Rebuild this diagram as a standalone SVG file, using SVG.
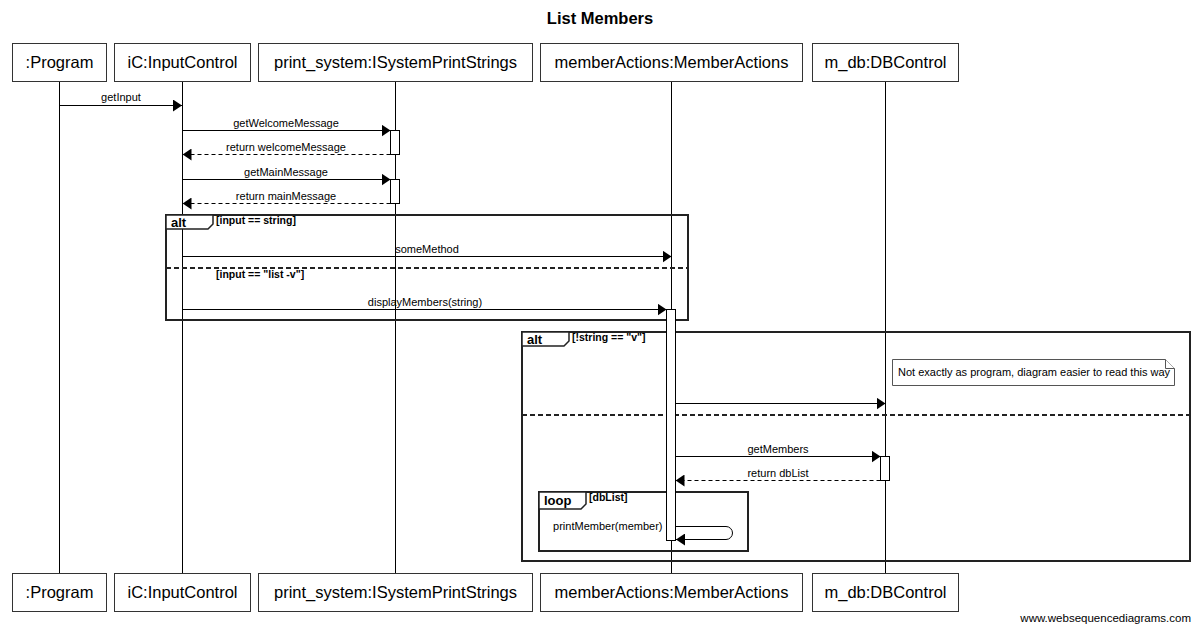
<svg xmlns="http://www.w3.org/2000/svg" width="1200" height="632" viewBox="0 0 1200 632">
<style>
  text { font-family: "Liberation Sans", Arial, sans-serif; fill: #000; }
  .title { font-size: 16.5px; font-weight: bold; text-anchor: middle; }
  .pbox { fill: #fff; stroke: #333; stroke-width: 1; }
  .pname { font-size: 16.5px; text-anchor: middle; }
  .life { stroke: #000; stroke-width: 1; }
  .msg { stroke: #000; stroke-width: 1; fill: none; marker-end: url(#ah); }
  .ret { stroke: #000; stroke-width: 1; fill: none; stroke-dasharray: 4 3; marker-end: url(#ah); }
  .lbl { font-size: 11px; text-anchor: middle; }
  .act { fill: #fff; stroke: #000; stroke-width: 1; }
  .frame { fill: none; stroke: #222; stroke-width: 2; }
  .tab { fill: #fff; stroke: #222; stroke-width: 1.5; }
  .sep { stroke: #222; stroke-width: 2; stroke-dasharray: 5 3; }
  .kw { font-size: 13px; font-weight: bold; }
  .cond { font-size: 10.5px; font-weight: bold; }
  .note { fill: #fff; stroke: #555; stroke-width: 1; }
  .wm { font-size: 11.5px; text-anchor: end; }
</style>
<defs>
  <marker id="ah" markerUnits="userSpaceOnUse" viewBox="0 0 9 12" refX="9" refY="6" markerWidth="9" markerHeight="12" orient="auto">
    <path d="M0,0 L9,6 L0,12 z" fill="#000"/>
  </marker>
</defs>
<rect width="1200" height="632" fill="#fff"/>
<text class="title" x="600" y="24">List Members</text>

<g id="lifelines">
  <line class="life" x1="59.5" y1="81" x2="59.5" y2="573"/>
  <line class="life" x1="182.5" y1="81" x2="182.5" y2="573"/>
  <line class="life" x1="395.5" y1="81" x2="395.5" y2="573"/>
  <line class="life" x1="671.5" y1="81" x2="671.5" y2="573"/>
  <line class="life" x1="885.5" y1="81" x2="885.5" y2="573"/>
</g>

<g id="p-program">
  <rect class="pbox" x="12.5" y="43.5" width="94" height="38"/>
  <text class="pname" x="59.5" y="68">:Program</text>
  <rect class="pbox" x="12.5" y="573.5" width="94" height="38"/>
  <text class="pname" x="59.5" y="598">:Program</text>
</g>
<g id="p-inputcontrol">
  <rect class="pbox" x="114.5" y="43.5" width="136" height="38"/>
  <text class="pname" x="182.5" y="68">iC:InputControl</text>
  <rect class="pbox" x="114.5" y="573.5" width="136" height="38"/>
  <text class="pname" x="182.5" y="598">iC:InputControl</text>
</g>
<g id="p-printsystem">
  <rect class="pbox" x="258.5" y="43.5" width="274" height="38"/>
  <text class="pname" x="395.5" y="68">print_system:ISystemPrintStrings</text>
  <rect class="pbox" x="258.5" y="573.5" width="274" height="38"/>
  <text class="pname" x="395.5" y="598">print_system:ISystemPrintStrings</text>
</g>
<g id="p-memberactions">
  <rect class="pbox" x="540.5" y="43.5" width="262" height="38"/>
  <text class="pname" x="671.5" y="68">memberActions:MemberActions</text>
  <rect class="pbox" x="540.5" y="573.5" width="262" height="38"/>
  <text class="pname" x="671.5" y="598">memberActions:MemberActions</text>
</g>
<g id="p-dbcontrol">
  <rect class="pbox" x="812.5" y="43.5" width="146" height="38"/>
  <text class="pname" x="885.5" y="68">m_db:DBControl</text>
  <rect class="pbox" x="812.5" y="573.5" width="146" height="38"/>
  <text class="pname" x="885.5" y="598">m_db:DBControl</text>
</g>

<g id="frames">
  <g id="frame-alt1">
    <rect class="frame" x="166" y="215" width="522" height="105"/>
    <path class="tab" d="M166,215 H213 V224 L208,229 H166 Z"/>
    <text class="kw" x="171" y="227">alt</text>
    <text class="cond" x="216" y="224">[input == string]</text>
    <line class="sep" x1="166" y1="268" x2="688" y2="268"/>
    <text class="cond" x="216" y="278">[input == "list -v"]</text>
  </g>
  <g id="frame-alt2">
    <rect class="frame" x="522" y="332" width="668" height="229"/>
    <path class="tab" d="M522,332 H569 V341 L564,346 H522 Z"/>
    <text class="kw" x="527" y="344">alt</text>
    <text class="cond" x="572" y="341">[!string == "v"]</text>
    <line class="sep" x1="522" y1="415" x2="1190" y2="415"/>
  </g>
  <g id="frame-loop">
    <rect class="frame" x="539" y="492" width="209" height="59"/>
    <path class="tab" d="M539,492 H586 V504 L581,509 H539 Z"/>
    <text class="kw" x="544" y="505">loop</text>
    <text class="cond" x="589" y="501">[dbList]</text>
  </g>
</g>

<g id="note">
  <path class="note" d="M892.5,359.5 H1165.5 L1174.5,368.5 V385.5 H892.5 Z"/>
  <path class="note" d="M1165.5,359.5 V368.5 H1174.5" fill="none"/>
  <text x="898" y="376" style="font-size:11px">Not exactly as program, diagram easier to read this way</text>
</g>

<g id="connectors">
  <line class="msg" x1="59.5" y1="105.5" x2="182" y2="105.5"/>
  <text class="lbl" x="121" y="101">getInput</text>

  <line class="msg" x1="182.5" y1="130.5" x2="390.5" y2="130.5"/>
  <text class="lbl" x="286" y="126.5">getWelcomeMessage</text>
  <line class="ret" x1="390.5" y1="154.5" x2="182.5" y2="154.5"/>
  <text class="lbl" x="286" y="151">return welcomeMessage</text>

  <line class="msg" x1="182.5" y1="179.5" x2="390.5" y2="179.5"/>
  <text class="lbl" x="286" y="175.5">getMainMessage</text>
  <line class="ret" x1="390.5" y1="203.5" x2="182.5" y2="203.5"/>
  <text class="lbl" x="286" y="200">return mainMessage</text>

  <line class="msg" x1="182.5" y1="256.5" x2="671.5" y2="256.5"/>
  <text class="lbl" x="427" y="252.5">someMethod</text>

  <line class="msg" x1="182.5" y1="309.5" x2="666.5" y2="309.5"/>
  <text class="lbl" x="425" y="305.5">displayMembers(string)</text>

  <line class="msg" x1="675.5" y1="403.5" x2="885.5" y2="403.5"/>

  <line class="msg" x1="675.5" y1="456.5" x2="880.5" y2="456.5"/>
  <text class="lbl" x="778" y="452.5">getMembers</text>
  <line class="ret" x1="880.5" y1="480.5" x2="675.5" y2="480.5"/>
  <text class="lbl" x="778" y="477">return dbList</text>

  <path class="msg" d="M675.5,526.5 H726 A6.5,6.5 0 0 1 732.5,533 A6.5,6.5 0 0 1 726,539.5 H676"/>
  <text class="lbl" x="662.5" y="530" style="text-anchor:end">printMember(member)</text>
</g>

<g id="activations">
  <rect class="act" x="390.5" y="130.5" width="9" height="24"/>
  <rect class="act" x="390.5" y="179.5" width="9" height="24"/>
  <rect class="act" x="666.5" y="309.5" width="9" height="231"/>
  <rect class="act" x="880.5" y="456.5" width="9" height="24"/>
</g>

<text class="wm" x="1191" y="622">www.websequencediagrams.com</text>
</svg>
